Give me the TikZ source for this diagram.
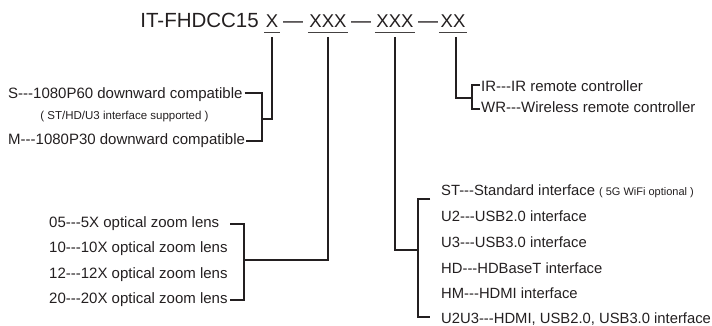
\documentclass[tikz,border=0pt]{standalone}
\usepackage{fontspec}
\setmainfont{Liberation Sans}
\definecolor{ink}{RGB}{35,31,32}
\newcommand{\tri}{-\kern0pt-\kern0pt-}
\begin{document}
\begin{tikzpicture}[x=1pt,y=-1pt,
  lbl/.style={anchor=base west,inner sep=0pt,text=ink,font=\fontsize{15}{18}\selectfont},
  ilbl/.style={lbl,font=\fontsize{14.8}{18}\selectfont},
  note/.style={anchor=base,inner sep=0pt,text=ink,font=\fontsize{11.5}{14}\selectfont},
  code/.style={anchor=base,inner sep=0pt,text=ink,font=\fontsize{18.5}{22}\selectfont},
  sep/.style={anchor=base,inner sep=0pt,text=ink,font=\fontsize{20}{22}\selectfont},
  conn/.style={draw=ink,line width=1.8pt,line join=miter},
  uline/.style={draw=ink!85,line width=0.9pt}]
\useasboundingbox (0,0) rectangle (712,326);
% title
\node[anchor=base east,inner sep=0pt,text=ink,font=\fontsize{20.5}{24}\selectfont] (title) at (259,28) {IT-FHDCC15};
\node[code] (uX) at (272,28) {X};
\node[sep] (d1) at (293,28) {—};
\node[code] (uXXXa) at (328,28) {XXX};
\node[sep] (d2) at (361,28) {—};
\node[code] (uXXXb) at (395,28) {XXX};
\node[sep] (d3) at (428,28) {—};
\node[code] (uXX) at (453,28) {XX};
\foreach \n in {uX,uXXXa,uXXXb,uXX}
  \draw[uline] ([xshift=-1.5pt,yshift=-4pt]\n.base west) -- ([xshift=1.5pt,yshift=-4pt]\n.base east);
% left: S / M
\node[lbl] (S) at (8,99) {S\tri1080P60 downward compatible};
\node[note] (Snote) at (124.5,120) {( ST/HD/U3 interface supported )};
\node[lbl] (M) at (8,145) {M\tri1080P30 downward compatible};
\coordinate (sTop) at (262,93);
\coordinate (sBot) at (262,141);
\coordinate (sMid) at (262,119);
\draw[conn] ([yshift=-9pt]uX.base) |- (sMid);
\draw[conn,shorten <=2pt,shorten >=1pt] (S.east |- sTop) -- (sTop) -- (sBot) -- (M.east |- sBot);
% lens
\node[lbl] (l05) at (49,227) {05\tri5X optical zoom lens};
\node[lbl] (l10) at (49,252.5) {10\tri10X optical zoom lens};
\node[lbl] (l12) at (49,278) {12\tri12X optical zoom lens};
\node[lbl] (l20) at (49,303.5) {20\tri20X optical zoom lens};
\coordinate (lTop) at (244,224);
\coordinate (lBot) at (244,300);
\coordinate (lMid) at (244,260);
\draw[conn] ([yshift=-9pt]uXXXa.base) |- (lMid);
\draw[conn,shorten <=11pt,shorten >=2pt] (l05.east |- lTop) -- (lTop) -- (lBot) -- (l20.east |- lBot);
% interfaces
\node[ilbl] (ist) at (441,195) {ST\tri Standard interface {\fontsize{11}{13}\selectfont( 5G WiFi optional )}};
\node[ilbl] (iu2) at (441,221) {U2\tri USB2.0 interface};
\node[ilbl] (iu3) at (441,247) {U3\tri USB3.0 interface};
\node[ilbl] (ihd) at (441,273) {HD\tri HDBaseT interface};
\node[ilbl] (ihm) at (441,298) {HM\tri HDMI interface};
\node[ilbl] (iuu) at (441,323.5) {U2U3\tri HDMI, USB2.0, USB3.0 interface};
\coordinate (iTop) at (418,199);
\coordinate (iBot) at (418,317);
\coordinate (iMid) at (418,250);
\draw[conn] ([yshift=-9pt]uXXXb.base) |- (iMid);
\draw[conn,shorten <=11pt,shorten >=11pt] (ist.west |- iTop) -- (iTop) -- (iBot) -- (iuu.west |- iBot);
% remotes
\node[lbl] (ir) at (481,91.5) {IR\tri IR remote controller};
\node[lbl] (wr) at (481,113) {WR\tri Wireless remote controller};
\coordinate (rTop) at (472,85);
\coordinate (rBot) at (472,109);
\coordinate (rMid) at (472,98);
\draw[conn] ([xshift=3pt,yshift=-9pt]uXX.base) |- (rMid);
\draw[conn,shorten <=1pt,shorten >=1pt] (ir.west |- rTop) -- (rTop) -- (rBot) -- (wr.west |- rBot);
\end{tikzpicture}
\end{document}
